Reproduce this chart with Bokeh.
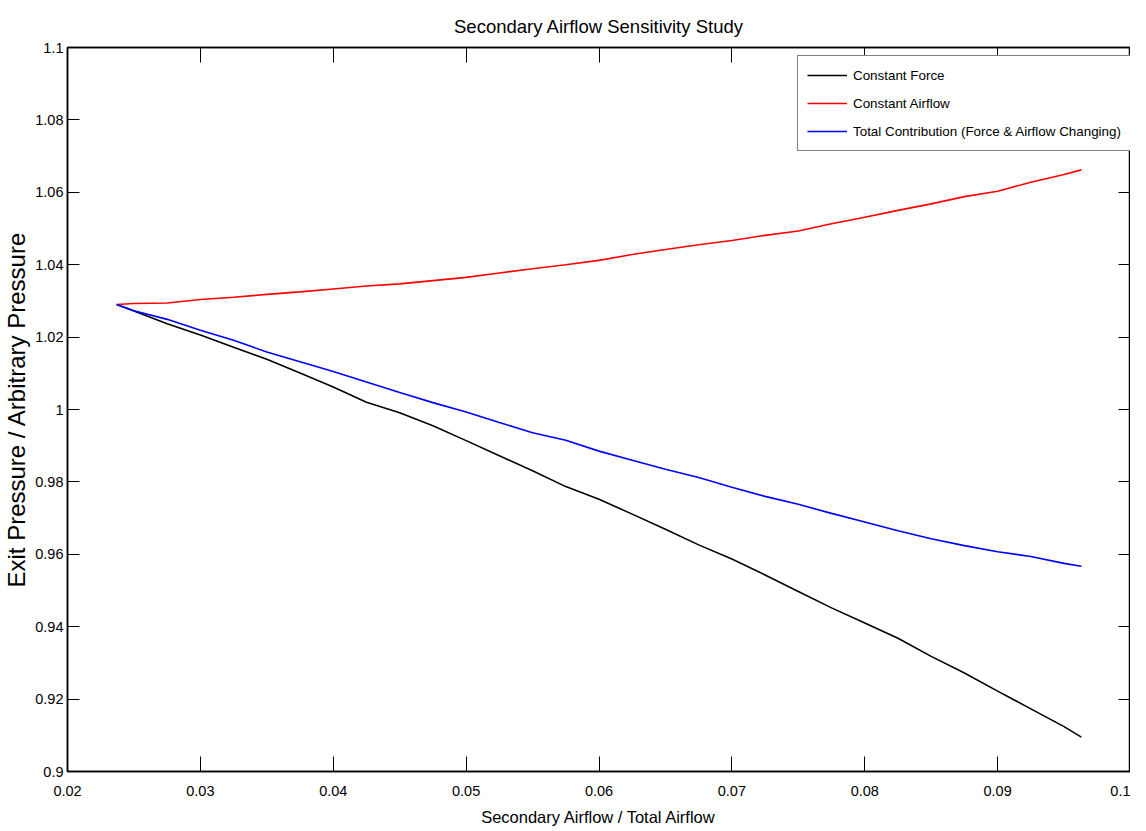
from bokeh.plotting import figure
from bokeh.models import LinearAxis, FixedTicker, CustomJSTickFormatter, Range1d, Legend, LegendItem
from bokeh.embed import file_html
from bokeh.resources import INLINE

# ---- data ----
x_ratio = [0.0237, 0.025, 0.0275, 0.03, 0.0325, 0.035, 0.0375, 0.04, 0.0425, 0.045,
           0.0475, 0.05, 0.0525, 0.055, 0.0575, 0.06, 0.0625, 0.065, 0.0675, 0.07,
           0.0725, 0.075, 0.0775, 0.08, 0.0825, 0.085, 0.0875, 0.09, 0.0925, 0.095, 0.0963]

constant_force = [1.0290, 1.0272, 1.0237, 1.0206, 1.0172, 1.0139, 1.0101, 1.0062, 1.0020, 0.9991,
                  0.9955, 0.9914, 0.9872, 0.9831, 0.9787, 0.9752, 0.9711, 0.9669, 0.9626, 0.9587,
                  0.9543, 0.9497, 0.9452, 0.9410, 0.9368, 0.9318, 0.9272, 0.9222, 0.9173, 0.9124, 0.9095]

constant_airflow = [1.0290, 1.0293, 1.0294, 1.0304, 1.0310, 1.0318, 1.0325, 1.0333, 1.0341, 1.0347,
                    1.0356, 1.0365, 1.0377, 1.0389, 1.0400, 1.0412, 1.0428, 1.0442, 1.0455, 1.0467,
                    1.0481, 1.0493, 1.0513, 1.0531, 1.0550, 1.0568, 1.0588, 1.0603, 1.0628, 1.0649, 1.0662]

total_contribution = [1.0290, 1.0273, 1.0249, 1.0219, 1.0191, 1.0159, 1.0132, 1.0105, 1.0076, 1.0047,
                      1.0019, 0.9993, 0.9964, 0.9936, 0.9915, 0.9885, 0.9860, 0.9835, 0.9812, 0.9785,
                      0.9760, 0.9738, 0.9713, 0.9689, 0.9665, 0.9643, 0.9624, 0.9607, 0.9594, 0.9575, 0.9567]

series_names = ["Constant Force", "Constant Airflow", "Total Contribution (Force & Airflow Changing)"]
series_colors = ["#000000", "#ff0000", "#0000ff"]

x_ticks = [0.02, 0.03, 0.04, 0.05, 0.06, 0.07, 0.08, 0.09, 0.1]
y_ticks = [0.9, 0.92, 0.94, 0.96, 0.98, 1.0, 1.02, 1.04, 1.06, 1.08, 1.1]

title_text = "Secondary Airflow Sensitivity Study"
x_label = "Secondary Airflow / Total Airflow"
y_label = "Exit Pressure / Arbitrary Pressure"

FONT = "Liberation Sans"

p = figure(width=1130, height=831, output_backend="svg", toolbar_location=None,
           x_range=Range1d(0.02, 0.1), y_range=Range1d(0.9, 1.1),
           min_border_left=63, min_border_right=0, min_border_top=47, min_border_bottom=60,
           title=title_text)
p.title.align = "center"
p.title.text_font = FONT
p.title.text_font_size = "18.5px"
p.title.text_font_style = "normal"
p.title.text_color = "#000000"
p.title.standoff = 22

p.xgrid.visible = False
p.ygrid.visible = False
p.outline_line_color = "#000000"
p.outline_line_width = 1.5

fmt = CustomJSTickFormatter(code="return tick.toFixed(3).replace(/\\.?0+$/, '');")

def style_axis(ax, ticks, show_labels):
    ax.ticker = FixedTicker(ticks=ticks)
    ax.major_tick_in = 12
    ax.major_tick_out = 0
    ax.minor_tick_in = 0
    ax.minor_tick_out = 0
    ax.axis_line_color = "#000000"
    ax.axis_line_width = 1.5
    ax.major_tick_line_color = "#000000"
    ax.major_tick_line_width = 1
    ax.formatter = fmt
    if show_labels:
        ax.major_label_text_font = FONT
        ax.major_label_text_font_size = "14.5px"
        ax.major_label_text_color = "#000000"
        ax.major_label_standoff = 5
    else:
        ax.major_label_text_font_size = "0px"
        ax.major_label_standoff = 0
        ax.axis_label_standoff = 0

style_axis(p.xaxis[0], x_ticks, True)
style_axis(p.yaxis[0], y_ticks, True)
p.xaxis[0].major_tick_in = 15
p.xaxis[0].major_label_standoff = 14
p.xaxis[0].axis_label = x_label
p.xaxis[0].axis_label_text_font = FONT
p.xaxis[0].axis_label_text_font_size = "16.5px"
p.xaxis[0].axis_label_text_font_style = "normal"
p.xaxis[0].axis_label_text_color = "#000000"
p.xaxis[0].axis_label_standoff = 9
p.yaxis[0].major_label_standoff = 4
p.yaxis[0].axis_label = y_label
p.yaxis[0].axis_label_text_font = FONT
p.yaxis[0].axis_label_text_font_size = "24px"
p.yaxis[0].axis_label_text_font_style = "normal"
p.yaxis[0].axis_label_text_color = "#000000"
p.yaxis[0].axis_label_standoff = 2

top_ax = LinearAxis()
style_axis(top_ax, x_ticks, False)
top_ax.major_tick_in = 15
p.add_layout(top_ax, "above")
right_ax = LinearAxis()
style_axis(right_ax, y_ticks, False)
p.add_layout(right_ax, "right")

renderers = []
for ys, c in zip([constant_force, constant_airflow, total_contribution], series_colors):
    r = p.line(x_ratio, ys, line_color=c, line_width=1.6)
    renderers.append(r)

legend = Legend(items=[LegendItem(label=n, renderers=[r]) for n, r in zip(series_names, renderers)],
                location=(730, 620))
legend.label_text_font = FONT
legend.label_text_font_size = "13.4px"
legend.label_text_color = "#000000"
legend.glyph_width = 40
legend.glyph_height = 20
legend.label_height = 20
legend.label_standoff = 6
legend.spacing = 8
legend.padding = 9
legend.margin = 0
legend.border_line_color = "#000000"
legend.border_line_width = 1.5
legend.background_fill_alpha = 1
p.add_layout(legend, "center")

open("out.html", "w").write(file_html(p, INLINE))
